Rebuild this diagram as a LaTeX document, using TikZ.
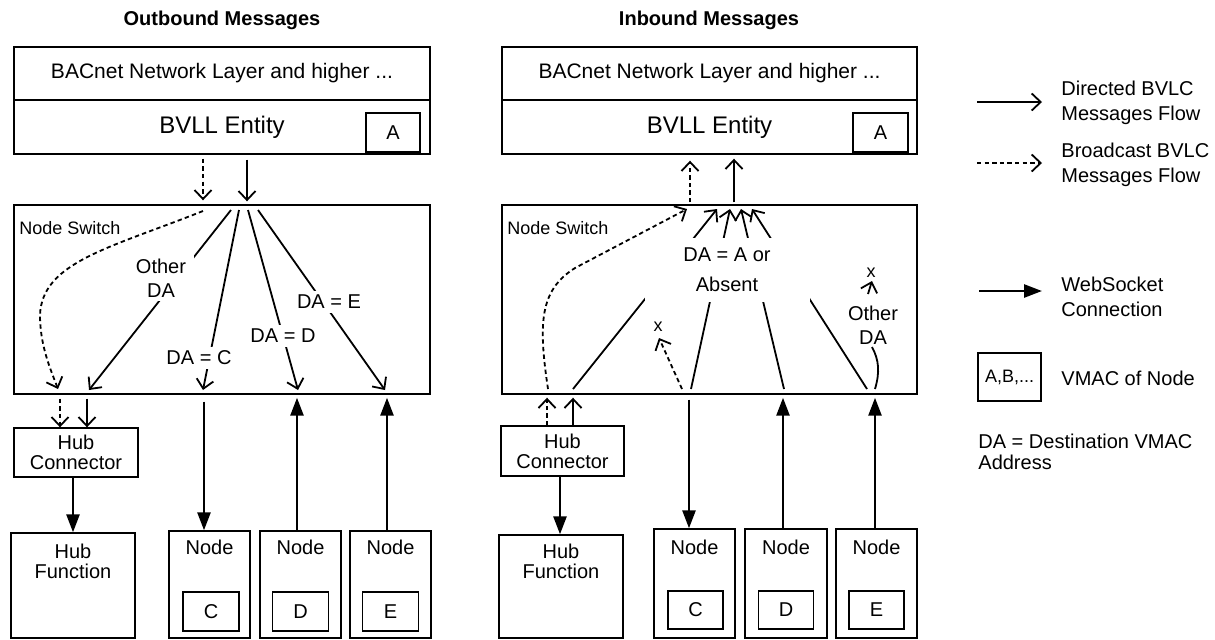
\documentclass[tikz,border=0pt]{standalone}
\usepackage{fontspec}
\setmainfont{Liberation Sans}
\usetikzlibrary{arrows.meta}
\begin{document}
\begin{tikzpicture}[x=0.5pt,y=-0.5pt,
  box/.style={draw, line width=0.7pt, inner sep=0pt},
  f10/.style={font=\fontsize{10}{10}\selectfont, align=center, inner sep=0pt},
  ttl/.style={font=\bfseries\fontsize{10}{12}\selectfont, inner sep=0pt},
  lbl/.style={fill=white, inner sep=2pt, align=center, font=\fontsize{10}{12}\selectfont},
  leg/.style={font=\fontsize{10}{12.5}\selectfont, align=left, inner sep=0pt, anchor=west},
  dir/.style={line width=0.9pt, -{Straight Barb[length=4.5pt,width=8.5pt]}},
  bc/.style={dir, dash pattern=on 2.2pt off 1.6pt},
  ws/.style={line width=1.3pt, -{Triangle[length=9pt,width=6.5pt]}},
  vm/.style={box, font=\fontsize{10}{12}\selectfont}
]
\useasboundingbox (0,0) rectangle (1215,639);

% ================= LEFT: Outbound =================
\node[ttl] (t1) at (222,20) {Outbound Messages};
\node[box, minimum width=208pt, minimum height=26.5pt, font=\fontsize{10.5}{12}\selectfont] (top1) at (222,73.5) {BACnet Network Layer and higher ...};
\node[box, minimum width=208pt, minimum height=27pt, font=\fontsize{12}{14}\selectfont] (bvll1) at (222,127) {BVLL Entity};
\node[vm, minimum width=27pt, minimum height=19.5pt] (A1) at (393,132.5) {A};
\node[box, minimum width=208pt, minimum height=94.5pt] (sw1) at (222,299.5) {};
\node[font=\fontsize{9}{11}\selectfont, anchor=west, inner sep=0pt] (sl1) at (19,228) {Node Switch};

\node[box, f10, minimum width=62pt, minimum height=24.5pt] (hc1) at (76,452.5) {Hub\\Connector};
\node[box, minimum width=62pt, minimum height=52.5pt] (hf1) at (73,585.5) {};
\node[f10] (hft1) at (73,561) {Hub\\Function};
\node[box, minimum width=40.5pt, minimum height=53.5pt] (nc1) at (209.5,584.5) {};
\node[box, minimum width=40.5pt, minimum height=53.5pt] (nd1) at (300.5,584.5) {};
\node[box, minimum width=40.5pt, minimum height=53.5pt] (ne1) at (390.5,584.5) {};
\node[f10] (nct1) at (209.5,547) {Node};
\node[f10] (ndt1) at (300.5,547) {Node};
\node[f10] (net1) at (390.5,547) {Node};
\node[vm, minimum width=28pt, minimum height=19.5pt] (vc1) at (211,611.5) {C};
\node[vm, minimum width=28pt, minimum height=19.5pt] (vd1) at (300.5,611.5) {D};
\node[vm, minimum width=28pt, minimum height=19.5pt] (ve1) at (390.5,611.5) {E};

% BVLL -> switch
\draw[bc, shorten <=2pt, shorten >=2pt] (bvll1.south -| 203,0) -- (sw1.north -| 203,0);
\draw[dir, shorten <=2.5pt, shorten >=1.5pt] (bvll1.south -| 247,0) -- (sw1.north -| 247,0);

% fan inside switch
\coordinate (ob) at (203,211);
\coordinate (oo) at (231,210);
\coordinate (oc) at (239,210);
\coordinate (od) at (248,210);
\coordinate (oe) at (258,210);
\coordinate (eb) at (58,389);
\coordinate (eo) at (89,390);
\coordinate (ec) at (203,390);
\coordinate (ed) at (298,390);
\coordinate (ee) at (385,390);
\draw[bc] (ob) .. controls (110,248) and (42,262) .. (40,315) .. controls (40,345) and (50,368) .. (eb);
\draw[dir] (oo) -- (eo);
\draw[dir] (oc) -- (ec);
\draw[dir] (od) -- (ed);
\draw[dir] (oe) -- (ee);
\node[lbl, inner xsep=4pt] (lo1) at (161,278) {Other\\DA};
\node[lbl] (lc1) at (199,358) {DA = C};
\node[lbl] (ld1) at (283,336) {DA = D};
\node[lbl] (le1) at (329,302) {DA = E};

% switch -> hub connector / nodes
\draw[bc, shorten <=2pt] (sw1.south -| 60,0) -- (hc1.north -| 60,0);
\draw[dir, shorten <=2pt] (sw1.south -| 87,0) -- (hc1.north -| 87,0);
\draw[ws] (hc1.south -| 73,0) -- (hf1.north -| 73,0);
\draw[ws, shorten <=3.5pt] (sw1.south -| 204,0) -- (nc1.north -| 204,0);
\draw[ws, shorten >=1.5pt] (nd1.north -| 297,0) -- (sw1.south -| 297,0);
\draw[ws, shorten >=1.5pt] (ne1.north -| 387,0) -- (sw1.south -| 387,0);

% ================= RIGHT: Inbound =================
\node[ttl] (t2) at (709,20) {Inbound Messages};
\node[box, minimum width=207.5pt, minimum height=26.5pt, font=\fontsize{10.5}{12}\selectfont] (top2) at (709.5,73.5) {BACnet Network Layer and higher ...};
\node[box, minimum width=207.5pt, minimum height=27pt, font=\fontsize{12}{14}\selectfont] (bvll2) at (709.5,127) {BVLL Entity};
\node[vm, minimum width=27.5pt, minimum height=19.5pt] (A2) at (880.5,132.5) {A};
\node[box, minimum width=207.5pt, minimum height=94.5pt] (sw2) at (709.5,299.5) {};
\node[font=\fontsize{9}{11}\selectfont, anchor=west, inner sep=0pt] (sl2) at (507,228) {Node Switch};

\node[box, f10, minimum width=61.5pt, minimum height=25pt] (hc2) at (562.5,451) {Hub\\Connector};
\node[box, minimum width=62pt, minimum height=51.5pt] (hf2) at (561,586.5) {};
\node[f10] (hft2) at (561,561) {Hub\\Function};
\node[box, minimum width=40.5pt, minimum height=54.5pt] (nc2) at (694.5,583.5) {};
\node[box, minimum width=41pt, minimum height=54.5pt] (nd2) at (786,583.5) {};
\node[box, minimum width=40.5pt, minimum height=54.5pt] (ne2) at (876.5,583.5) {};
\node[f10] (nct2) at (694.5,547) {Node};
\node[f10] (ndt2) at (786,547) {Node};
\node[f10] (net2) at (876.5,547) {Node};
\node[vm, minimum width=27.5pt, minimum height=19pt] (vc2) at (695.5,610) {C};
\node[vm, minimum width=27.5pt, minimum height=19pt] (vd2) at (786,610) {D};
\node[vm, minimum width=27.5pt, minimum height=19pt] (ve2) at (876.5,610) {E};

% switch -> BVLL
\draw[bc, shorten <=1pt, shorten >=3pt] (sw2.north -| 690,0) -- (bvll2.south -| 690,0);
\draw[dir, shorten <=1pt, shorten >=2pt] (sw2.north -| 734,0) -- (bvll2.south -| 734,0);

% fan inside switch
\coordinate (ib) at (548,389);
\coordinate (ih) at (573,389);
\coordinate (ic) at (691,389);
\coordinate (icx) at (682,389);
\coordinate (id) at (784,389);
\coordinate (ie) at (867,389);
\coordinate (iex) at (875,389);
\coordinate (jb) at (687,209);
\coordinate (jh) at (717,209);
\coordinate (jc) at (730,209);
\coordinate (jd) at (741,209);
\coordinate (je) at (752,209);
\coordinate (jcx) at (659,338);
\draw[bc] (ib) .. controls (538,322) and (540,290) .. (575,268) -- (jb);
\draw[dir] (ih) -- (jh);
\draw[dir] (ic) -- (jc);
\draw[dir] (id) -- (jd);
\draw[dir] (ie) -- (je);
\node[lbl, minimum width=82.5pt, minimum height=32pt, font=\fontsize{10}{15}\selectfont] (la2) at (727,270) {DA = A or\\Absent};
\draw[bc] (icx) -- (jcx);
\node[font=\fontsize{9}{10}\selectfont, inner sep=0pt] (x1) at (658,327) {x};
\coordinate (oda) at (872,347);
\draw[line width=0.9pt] (iex) .. controls (880,372) and (879,360) .. (oda);
\node[lbl, inner sep=1pt] (lo2) at (873,325) {Other\\DA};
\coordinate (xs) at (868,294);
\coordinate (xe) at (872,281);
\draw[dir] (xs) -- (xe);
\node[font=\fontsize{9}{10}\selectfont, inner sep=0pt] (x2) at (871,273) {x};

% below switch
\draw[bc, shorten >=1.5pt] (hc2.north -| 547,0) -- (sw2.south -| 547,0);
\draw[dir, shorten >=1.5pt] (hc2.north -| 573,0) -- (sw2.south -| 573,0);
\draw[ws] (hc2.south -| 560,0) -- (hf2.north -| 560,0);
\draw[ws, shorten <=2.5pt] (sw2.south -| 689,0) -- (nc2.north -| 689,0);
\draw[ws, shorten >=1.5pt] (nd2.north -| 783,0) -- (sw2.south -| 783,0);
\draw[ws, shorten >=1.5pt] (ne2.north -| 875,0) -- (sw2.south -| 875,0);

% ================= LEGEND =================
\coordinate (l1s) at (977,102);
\coordinate (l1e) at (1042,102);
\draw[dir] (l1s) -- (l1e);
\node[leg] (lt1) at (1061,103) {Directed BVLC\\Messages Flow};
\coordinate (l2s) at (977,163);
\coordinate (l2e) at (1042,163);
\draw[bc] (l2s) -- (l2e);
\node[leg] (lt2) at (1061,165) {Broadcast BVLC\\Messages Flow};
\coordinate (l3s) at (979,291);
\coordinate (l3e) at (1042,291);
\draw[ws] (l3s) -- (l3e);
\node[leg] (lt3) at (1061,297) {WebSocket\\Connection};
\node[box, minimum width=31.5pt, minimum height=24pt, font=\fontsize{9}{10}\selectfont] (lb) at (1009.5,377) {A,B,...};
\node[leg] (lt4) at (1061,378) {VMAC of Node};
\node[leg, font=\fontsize{10}{10.5}\selectfont] (lt5) at (978,452) {DA = Destination VMAC\\Address};
\end{tikzpicture}
\end{document}
